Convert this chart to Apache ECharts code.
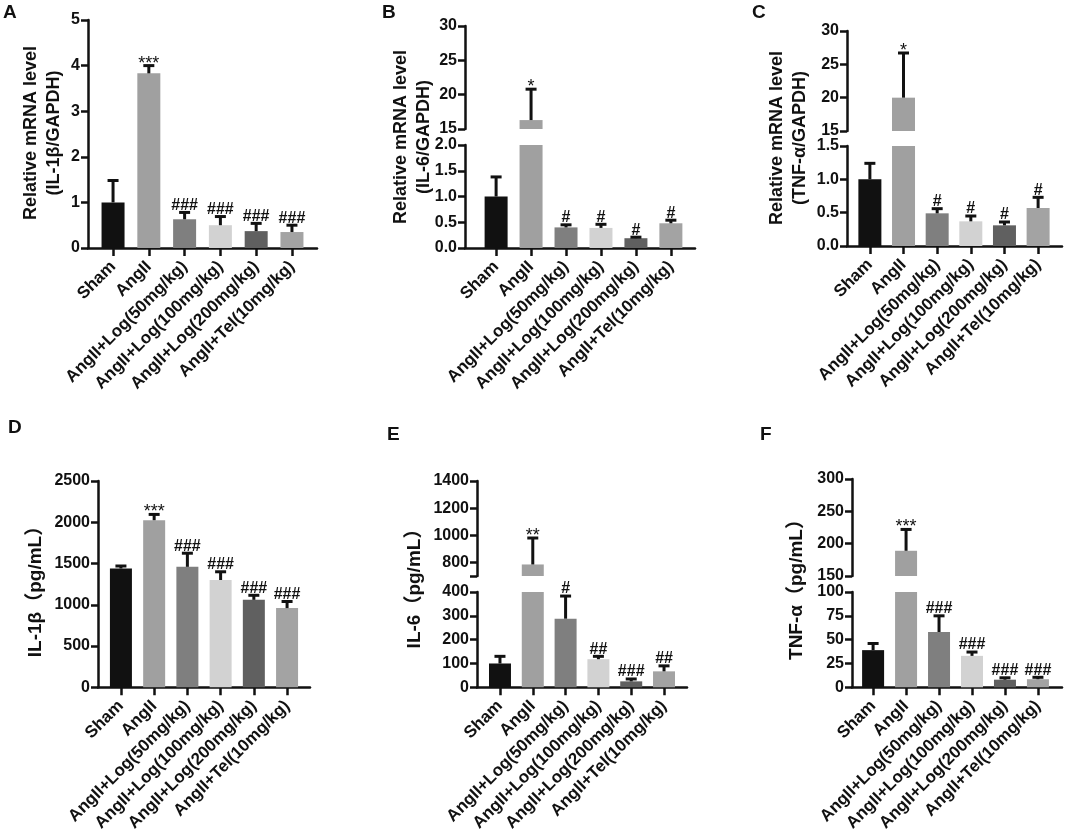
<!DOCTYPE html>
<html>
<head>
<meta charset="utf-8">
<script src="https://cdn.jsdelivr.net/npm/echarts@6.0.0/dist/echarts.min.js"></script>
<style>
  html, body { margin: 0; padding: 0; background: #fff; }
  #report_chart { width: 1065px; height: 834px; }
</style>
</head>
<body>
<div id="report_chart"></div>
<script>
// groups and bar fills
var categories = ['Sham', 'AngII', 'AngII+Log(50mg/kg)', 'AngII+Log(100mg/kg)', 'AngII+Log(200mg/kg)', 'AngII+Tel(10mg/kg)'];
var barColors = ['#111111', '#a0a0a0', '#7f7f7f', '#d2d2d2', '#606060', '#a3a3a3'];

// A: IL-1b mRNA
var aMean = [1.0, 3.83, 0.63, 0.5, 0.37, 0.35];
var aUpper = [1.48, 4.0, 0.78, 0.69, 0.54, 0.5];
var aMarks = ['', '***', '###', '###', '###', '###'];
var aTicks = [0, 1, 2, 3, 4, 5];

// B: IL-6 mRNA (broken axis)
var bMean = [1.0, 16.3, 0.4, 0.39, 0.19, 0.48];
var bUpper = [1.38, 20.8, 0.45, 0.46, 0.21, 0.54];
var bMarks = ['', '*', '#', '#', '#', '#'];
var bTicksTop = [15, 20, 25, 30];
var bTicksBottom = [0, 0.5, 1.0, 1.5, 2.0];

// C: TNF-a mRNA (broken axis)
var cMean = [1.0, 20.0, 0.49, 0.37, 0.31, 0.57];
var cUpper = [1.24, 26.7, 0.56, 0.45, 0.36, 0.73];
var cMarks = ['', '*', '#', '#', '#', '#'];
var cTicksTop = [15, 20, 25, 30];
var cTicksBottom = [0, 0.5, 1.0, 1.5];

// D: IL-1b protein
var dMean = [1440, 2025, 1460, 1300, 1060, 960];
var dUpper = [1470, 2095, 1625, 1400, 1115, 1040];
var dMarks = ['', '***', '###', '###', '###', '###'];
var dTicks = [0, 500, 1000, 1500, 2000, 2500];

// E: IL-6 protein (broken axis)
var eMean = [100, 785, 288, 118, 25, 67];
var eUpper = [130, 980, 383, 130, 35, 90];
var eMarks = ['', '**', '#', '##', '###', '##'];
var eTicksTop = [700, 800, 1000, 1200, 1400];
var eLabelsTop = [800, 1000, 1200, 1400];
var eTicksBottom = [0, 100, 200, 300, 400];

// F: TNF-a protein (broken axis)
var fMean = [39, 189, 58, 33, 8, 8.5];
var fUpper = [46, 222, 75, 37, 10, 10.5];
var fMarks = ['', '***', '###', '###', '###', '###'];
var fTicksTop = [150, 200, 250, 300];
var fTicksBottom = [0, 25, 50, 75, 100];

var FONT = '"Liberation Sans", Arial, "Noto Sans CJK SC", sans-serif';
var INK = '#111111';

var panels = [
	{ letter: 'A', lx: 3, ly: 3, left: 88, width: 229, xmin: -0.7, xmax: 5.7, barW: 23,
	  mean: aMean, upper: aUpper, marks: aMarks,
	  segs: [ { top: 20, height: 228, min: 0, max: 5, ticks: aTicks, labels: aTicks, dec: 0 } ],
	  title: 'Relative mRNA level\n(IL-1β/GAPDH)', tx: 43, ty: 133, tsize: 18 },
	{ letter: 'B', lx: 382, ly: 3, left: 465, width: 230, xmin: -0.89, xmax: 5.69, barW: 23,
	  mean: bMean, upper: bUpper, marks: bMarks,
	  segs: [ { top: 26, height: 103, min: 15, max: 30, ticks: bTicksTop, labels: bTicksTop, dec: 0 },
	          { top: 145, height: 103, min: 0, max: 2, ticks: bTicksBottom, labels: bTicksBottom, dec: 1 } ],
	  title: 'Relative mRNA level\n(IL-6/GAPDH)', tx: 413, ty: 137, tsize: 18 },
	{ letter: 'C', lx: 752, ly: 3, left: 847, width: 215, xmin: -0.68, xmax: 5.71, barW: 23,
	  mean: cMean, upper: cUpper, marks: cMarks,
	  segs: [ { top: 31, height: 100, min: 15, max: 30, ticks: cTicksTop, labels: cTicksTop, dec: 0 },
	          { top: 146, height: 100, min: 0, max: 1.5, ticks: cTicksBottom, labels: cTicksBottom, dec: 1 } ],
	  title: 'Relative mRNA level\n(TNF-α/GAPDH)', tx: 789, ty: 138, tsize: 18 },
	{ letter: 'D', lx: 8, ly: 418, left: 98, width: 212, xmin: -0.69, xmax: 5.69, barW: 22,
	  mean: dMean, upper: dUpper, marks: dMarks,
	  segs: [ { top: 481, height: 211, min: 0, max: 2500, ticks: dTicks, labels: dTicks, dec: 0 } ],
	  title: 'IL-1β（pg/mL）', tx: 36, ty: 587, tsize: 19 },
	{ letter: 'E', lx: 387, ly: 425, left: 477, width: 210, xmin: -0.7, xmax: 5.7, barW: 22,
	  mean: eMean, upper: eUpper, marks: eMarks,
	  segs: [ { top: 481, height: 95, min: 700, max: 1400, ticks: eTicksTop, labels: eLabelsTop, dec: 0 },
	          { top: 592, height: 96, min: 0, max: 400, ticks: eTicksBottom, labels: eTicksBottom, dec: 0 } ],
	  title: 'IL-6（pg/mL）', tx: 415, ty: 584, tsize: 19 },
	{ letter: 'F', lx: 760, ly: 425, left: 852, width: 210, xmin: -0.64, xmax: 5.73, barW: 22,
	  mean: fMean, upper: fUpper, marks: fMarks,
	  segs: [ { top: 479, height: 97, min: 150, max: 300, ticks: fTicksTop, labels: fTicksTop, dec: 0 },
	          { top: 592, height: 96, min: 0, max: 100, ticks: fTicksBottom, labels: fTicksBottom, dec: 0 } ],
	  title: 'TNF-α（pg/mL）', tx: 797, ty: 585, tsize: 19 }
];

// error bar (upper only) with cap, plus significance mark
function makeRender(marks) {
	return function (params, api) {
		var i = api.value(0);
		var base = api.coord([i, api.value(1)]);
		var top = api.coord([i, api.value(2)]);
		var half = 5.5;
		var line = { stroke: INK, lineWidth: 3 };
		var children = [
			{ type: 'line', shape: { x1: top[0], y1: base[1], x2: top[0], y2: top[1] }, style: line },
			{ type: 'line', shape: { x1: top[0] - half, y1: top[1], x2: top[0] + half, y2: top[1] }, style: line }
		];
		var m = marks[i];
		if (m) {
			var star = m.indexOf('*') >= 0;
			children.push({
				type: 'text',
				x: top[0],
				y: star ? top[1] + 7 : top[1] + 1,
				style: {
					text: m,
					fill: INK,
					font: (star ? 'normal 18px ' : 'bold 16px ') + FONT,
					textAlign: 'center',
					textVerticalAlign: 'bottom'
				}
			});
		}
		return { type: 'group', children: children };
	};
}

var grids = [], xAxes = [], yAxes = [], series = [], graphics = [];
var catIdx = [0, 1, 2, 3, 4, 5];

panels.forEach(function (p) {
	p.segs.forEach(function (s, k) {
		var gi = grids.length;
		var isBottom = k === p.segs.length - 1;
		grids.push({ left: p.left, top: s.top, width: p.width, height: s.height });
		xAxes.push({
			type: 'value',
			gridIndex: gi,
			min: p.xmin,
			max: p.xmax,
			show: isBottom,
			splitLine: { show: false },
			axisLine: { onZero: false, lineStyle: { color: INK, width: 2.5 } },
			axisTick: { customValues: catIdx, length: 8, lineStyle: { color: INK, width: 2.5 } },
			axisLabel: {
				customValues: catIdx,
				formatter: function (v) { return categories[Math.round(v)]; },
				rotate: 45,
				margin: 16,
				color: INK,
				fontWeight: 'bold',
				fontSize: 17,
				fontFamily: FONT
			}
		});
		yAxes.push({
			type: 'value',
			gridIndex: gi,
			min: s.min,
			max: s.max,
			splitLine: { show: false },
			axisLine: { show: true, onZero: false, lineStyle: { color: INK, width: 2.5 } },
			axisTick: { show: true, customValues: s.ticks, length: 7, lineStyle: { color: INK, width: 2.5 } },
			axisLabel: {
				customValues: s.labels,
				formatter: (function (dec) { return function (v) { return Number(v).toFixed(dec); }; })(s.dec),
				margin: 8,
				color: INK,
				fontWeight: 'bold',
				fontSize: 16,
				fontFamily: FONT
			}
		});
		var barData = [], errData = [];
		p.mean.forEach(function (v, i) {
			if (v > s.min) {
				barData.push({ value: [i, v], itemStyle: { color: barColors[i] } });
			}
			var hi = p.upper[i];
			if (hi > s.min && hi <= s.max) {
				errData.push([i, Math.max(v, s.min), hi]);
			}
		});
		series.push({
			type: 'bar',
			xAxisIndex: gi,
			yAxisIndex: gi,
			barWidth: p.barW,
			clip: true,
			silent: true,
			data: barData
		});
		series.push({
			type: 'custom',
			xAxisIndex: gi,
			yAxisIndex: gi,
			z: 3,
			silent: true,
			renderItem: makeRender(p.marks),
			data: errData
		});
	});
	graphics.push({
		type: 'text', left: p.lx, top: p.ly,
		style: { text: p.letter, fill: INK, font: 'bold 19px ' + FONT }
	});
	graphics.push({
		type: 'text', x: p.tx, y: p.ty, rotation: Math.PI / 2,
		style: {
			text: p.title, fill: INK, font: 'bold ' + p.tsize + 'px ' + FONT,
			textAlign: 'center', textVerticalAlign: 'middle', lineHeight: 23
		}
	});
});

var myChart = echarts.init(document.getElementById('report_chart'), null, { renderer: 'canvas' });
myChart.setOption({
	backgroundColor: '#ffffff',
	animation: false,
	grid: grids,
	xAxis: xAxes,
	yAxis: yAxes,
	series: series,
	graphic: graphics
});
window.addEventListener('resize', function () {
	myChart.resize();
});
</script>
</body>
</html>
